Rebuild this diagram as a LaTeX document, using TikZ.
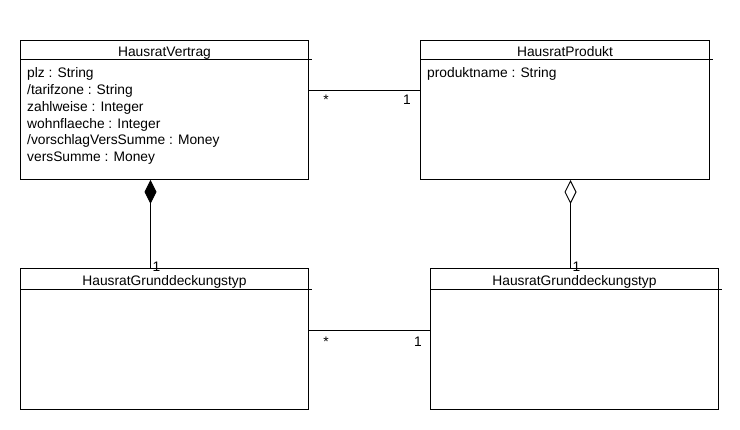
\documentclass[tikz,border=0pt]{standalone}
\usepackage{fontspec}
\setmainfont{Liberation Sans}
\usetikzlibrary{arrows.meta}
\begin{document}
\begin{tikzpicture}[x=1pt,y=-1pt,
  cls/.style={draw, line width=1pt, anchor=north west, inner sep=0pt},
  txt/.style={font=\fontsize{13.8}{16}\selectfont, inner sep=0pt},
  lab/.style={font=\fontsize{13.8}{16}\selectfont, inner sep=0pt, anchor=base},
  conn/.style={line width=1pt}]
\useasboundingbox (0,0) rectangle (740,430);
% classes
\node[cls, minimum width=288, minimum height=139] (hv) at (20,40) {};
\node[cls, minimum width=289, minimum height=139] (hp) at (420,40) {};
\node[cls, minimum width=288, minimum height=141] (bl) at (20,268) {};
\node[cls, minimum width=288, minimum height=141] (br) at (430,268) {};
% header separators
\draw[conn] ([yshift=-20]hv.north west) -- ([yshift=-20,xshift=3]hv.north east);
\draw[conn] ([yshift=-20]hp.north west) -- ([yshift=-20,xshift=3]hp.north east);
\draw[conn] ([yshift=-22]bl.north west) -- ([yshift=-22,xshift=3]bl.north east);
\draw[conn] ([yshift=-22]br.north west) -- ([yshift=-22,xshift=3]br.north east);
% titles
\node[txt, anchor=base] (hvt) at ([yshift=-17]hv.north) {HausratVertrag};
\node[txt, anchor=base] (hpt) at ([yshift=-17]hp.north) {HausratProdukt};
\node[txt, anchor=base] (blt) at ([yshift=-18]bl.north) {HausratGrunddeckungstyp};
\node[txt, anchor=base] (brt) at ([yshift=-18]br.north) {HausratGrunddeckungstyp};
% attributes
\foreach \t [count=\i] in {plz : String, /tarifzone : String, zahlweise : Integer, wohnflaeche : Integer, /vorschlagVersSumme : Money, versSumme : Money}{
  \node[txt, anchor=base west] (hva\i) at ([xshift=7,yshift={-38-16.7*(\i-1)}]hv.north west) {\t};
}
\node[txt, anchor=base west] (hpa1) at ([xshift=7,yshift=-38]hp.north west) {produktname : String};
% associations
\draw[conn] ([yshift=-51]hv.north east) -- ([yshift=-51]hp.north west);
\node[lab] (m1) at ([xshift=17,yshift=-65]hv.north east) {*};
\node[lab] (m2) at ([xshift=-13,yshift=-65]hp.north west) {1};
\draw[conn] ([yshift=-63]bl.north east) -- ([yshift=-63]br.north west);
\node[lab] (m3) at ([xshift=17,yshift=-79]bl.north east) {*};
\node[lab] (m4) at ([xshift=-12,yshift=-79]br.north west) {1};
% composition / aggregation
\draw[conn, -{Diamond[length=24pt, width=12pt]}] ([xshift=-14]bl.north) -- ([xshift=-14]hv.south);
\node[txt, anchor=base west] (m5) at ([xshift=-12,yshift=-4]bl.north) {1};
\draw[conn, -{Diamond[open, fill=white, length=24pt, width=12pt]}] ([xshift=-4]br.north) -- ([xshift=5.5]hp.south);
\node[txt, anchor=base west] (m6) at ([xshift=-2,yshift=-4]br.north) {1};
\end{tikzpicture}
\end{document}
